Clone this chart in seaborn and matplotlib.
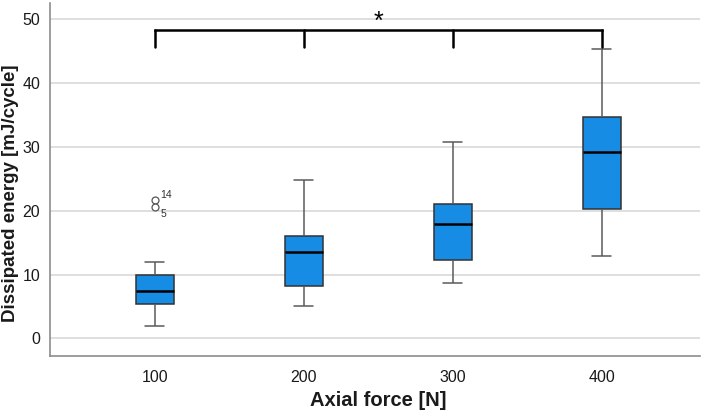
import numpy as np
import pandas as pd
import matplotlib
matplotlib.use('Agg')
import matplotlib.pyplot as plt
import seaborn as sns

# Five-number summaries (mJ/cycle)
forces = ['100', '200', '300', '400']
whisker_low = [2.0, 5.1, 8.7, 12.9]
q1 = [5.4, 8.2, 12.3, 20.2]
median = [7.4, 13.5, 17.9, 29.1]
q3 = [10.0, 16.0, 21.1, 34.6]
whisker_high = [11.9, 24.8, 30.7, 45.3]

# labelled outliers (case numbers) of the 100 N group
outlier_force = ['100', '100']
outlier_values = [21.6, 20.6]
outlier_ids = ['14', '5']

# significance bracket over all groups
bracket_groups = ['100', '200', '300', '400']
bracket_level = 48.3
bracket_drop = 2.7

# long table: the five summary values per group reproduce the box exactly
stats = pd.DataFrame({'force': forces, 'lo': whisker_low, 'q1': q1,
                      'med': median, 'q3': q3, 'hi': whisker_high})
long = stats.melt(id_vars='force', value_name='energy')
outliers = pd.DataFrame({'force': outlier_force, 'energy': outlier_values})

sns.set_style('whitegrid')
plt.rcParams['font.family'] = ['Liberation Sans', 'DejaVu Sans']

fig = plt.figure(figsize=(7.08, 4.12), dpi=100)
ax = fig.add_axes([0.0706, 0.136, 0.918, 0.857])

sns.boxplot(data=long, x='force', y='energy', order=forces, ax=ax,
            width=0.255, color='#168ce4', saturation=1, showfliers=False,
            linecolor='#5a5a5a', linewidth=1.1,
            boxprops=dict(edgecolor='#333333'),
            medianprops=dict(color='black', linewidth=1.8))

sns.stripplot(data=outliers, x='force', y='energy', order=forces, ax=ax,
              jitter=False, size=5, color='white', edgecolor='#555555',
              linewidth=0.9, zorder=3)
ax.collections[-1].set_facecolor('none')

pos = {f: i for i, f in enumerate(forces)}
for f, v, lab, dy in zip(outlier_force, outlier_values, outlier_ids, [4, -5]):
    ax.annotate(lab, (pos[f], v), xytext=(4, dy), textcoords='offset points',
                fontsize=7.5, color='#333333', va='center', ha='left')

# bracket
xs = [pos[g] for g in bracket_groups]
ax.plot([xs[0], xs[-1]], [bracket_level, bracket_level], color='black',
        lw=1.8, solid_capstyle='projecting', zorder=4)
for x in xs:
    ax.plot([x, x], [bracket_level, bracket_level - bracket_drop],
            color='black', lw=1.8, zorder=4)
ax.text(np.mean([xs[0], xs[-1]]), bracket_level - 0.6, '*', ha='center',
        va='bottom', fontsize=18, color='black')

ax.set_xlim(-0.705, 3.66)
ax.set_ylim(-2.74, 52.5)
ax.set_yticks([0, 10, 20, 30, 40, 50])
ax.grid(axis='y', color='#d9d9d9', linewidth=1.2)
ax.grid(axis='x', visible=False)
ax.set_axisbelow(True)

for s in ['top', 'right']:
    ax.spines[s].set_visible(False)
for s in ['left', 'bottom']:
    ax.spines[s].set_color('#8c8c8c')
    ax.spines[s].set_linewidth(1.2)

ax.tick_params(axis='both', length=0, labelsize=11.5, colors='#1a1a1a')
ax.tick_params(axis='x', pad=10)
ax.tick_params(axis='y', pad=7)

ax.set_xlabel('Axial force [N]', fontsize=14.5, fontweight='bold',
              color='#1a1a1a')
ax.set_ylabel('Dissipated energy [mJ/cycle]', fontsize=13.5,
              fontweight='bold', color='#1a1a1a')
ax.xaxis.set_label_coords(0.505, -0.099)
ax.yaxis.set_label_coords(-0.047, 0.462)

fig.savefig('out.png', dpi=100)
